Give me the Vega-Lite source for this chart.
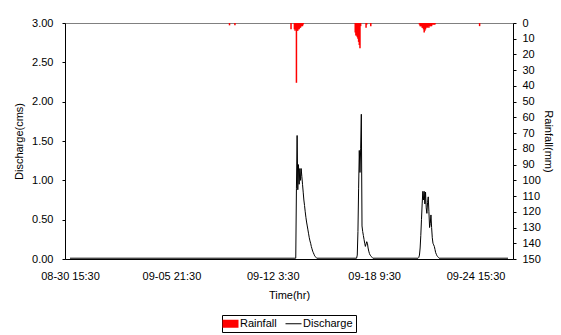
{
  "$schema": "https://vega.github.io/schema/vega-lite/v6.json",
  "autosize": "none",
  "width": 448,
  "height": 236,
  "padding": {"left": 65, "top": 23, "right": 48, "bottom": 76},
  "background": "white",
  "config": {
    "font": "Liberation Sans",
    "view": {"stroke": "#808080", "strokeWidth": 1},
    "axis": {"labelFont": "Liberation Sans", "titleFont": "Liberation Sans", "labelFontSize": 11, "titleFontSize": 11, "titleFontWeight": "normal", "labelColor": "black", "titleColor": "black", "domainColor": "black", "tickColor": "black", "grid": false},
    "legend": {"labelFont": "Liberation Sans", "labelFontSize": 11, "labelColor": "black"}
  },
  "datasets": {
    "rain": [
      {"time": "2010-09-09T11:30", "rainfall": 1.5},
      {"time": "2010-09-09T19:30", "rainfall": 1.5},
      {"time": "2010-09-13T06:30", "rainfall": 4},
      {"time": "2010-09-13T11:30", "rainfall": 4},
      {"time": "2010-09-13T12:30", "rainfall": 5},
      {"time": "2010-09-13T13:30", "rainfall": 4},
      {"time": "2010-09-13T14:30", "rainfall": 38},
      {"time": "2010-09-13T15:30", "rainfall": 5},
      {"time": "2010-09-13T16:30", "rainfall": 5},
      {"time": "2010-09-13T17:30", "rainfall": 4},
      {"time": "2010-09-13T18:30", "rainfall": 4},
      {"time": "2010-09-13T19:30", "rainfall": 3},
      {"time": "2010-09-13T20:30", "rainfall": 3},
      {"time": "2010-09-13T21:30", "rainfall": 2},
      {"time": "2010-09-13T22:30", "rainfall": 2},
      {"time": "2010-09-13T23:30", "rainfall": 2},
      {"time": "2010-09-14T00:30", "rainfall": 1},
      {"time": "2010-09-17T05:30", "rainfall": 6},
      {"time": "2010-09-17T06:30", "rainfall": 8},
      {"time": "2010-09-17T07:30", "rainfall": 8},
      {"time": "2010-09-17T08:30", "rainfall": 9},
      {"time": "2010-09-17T09:30", "rainfall": 10},
      {"time": "2010-09-17T10:30", "rainfall": 12},
      {"time": "2010-09-17T11:30", "rainfall": 14},
      {"time": "2010-09-17T12:30", "rainfall": 16},
      {"time": "2010-09-17T13:30", "rainfall": 2},
      {"time": "2010-09-17T21:30", "rainfall": 3},
      {"time": "2010-09-17T22:30", "rainfall": 1},
      {"time": "2010-09-18T04:30", "rainfall": 2},
      {"time": "2010-09-21T04:30", "rainfall": 1},
      {"time": "2010-09-21T05:30", "rainfall": 2},
      {"time": "2010-09-21T06:30", "rainfall": 2},
      {"time": "2010-09-21T07:30", "rainfall": 2},
      {"time": "2010-09-21T08:30", "rainfall": 3},
      {"time": "2010-09-21T09:30", "rainfall": 3},
      {"time": "2010-09-21T10:30", "rainfall": 4},
      {"time": "2010-09-21T11:30", "rainfall": 6},
      {"time": "2010-09-21T12:30", "rainfall": 5},
      {"time": "2010-09-21T13:30", "rainfall": 4},
      {"time": "2010-09-21T14:30", "rainfall": 3},
      {"time": "2010-09-21T15:30", "rainfall": 2},
      {"time": "2010-09-21T16:30", "rainfall": 3},
      {"time": "2010-09-21T17:30", "rainfall": 2},
      {"time": "2010-09-21T18:30", "rainfall": 3},
      {"time": "2010-09-21T19:30", "rainfall": 2},
      {"time": "2010-09-21T20:30", "rainfall": 2},
      {"time": "2010-09-21T21:30", "rainfall": 2},
      {"time": "2010-09-21T22:30", "rainfall": 2},
      {"time": "2010-09-21T23:30", "rainfall": 1},
      {"time": "2010-09-22T00:30", "rainfall": 1},
      {"time": "2010-09-22T01:30", "rainfall": 1},
      {"time": "2010-09-22T02:30", "rainfall": 1},
      {"time": "2010-09-22T03:30", "rainfall": 1},
      {"time": "2010-09-24T21:30", "rainfall": 2}
    ],
    "flow": [
      {"time": "2010-08-30T15:30", "discharge": 0.01},
      {"time": "2010-09-13T13:30", "discharge": 0.01},
      {"time": "2010-09-13T14:30", "discharge": 0.9},
      {"time": "2010-09-13T15:30", "discharge": 1.57},
      {"time": "2010-09-13T16:30", "discharge": 0.88},
      {"time": "2010-09-13T17:30", "discharge": 1.2},
      {"time": "2010-09-13T18:30", "discharge": 0.95},
      {"time": "2010-09-13T19:30", "discharge": 1.15},
      {"time": "2010-09-13T20:30", "discharge": 1.0},
      {"time": "2010-09-13T21:30", "discharge": 1.15},
      {"time": "2010-09-13T22:30", "discharge": 1.05},
      {"time": "2010-09-13T23:30", "discharge": 0.95},
      {"time": "2010-09-14T00:30", "discharge": 0.85},
      {"time": "2010-09-14T01:30", "discharge": 0.75},
      {"time": "2010-09-14T02:30", "discharge": 0.68},
      {"time": "2010-09-14T03:30", "discharge": 0.6},
      {"time": "2010-09-14T04:30", "discharge": 0.53},
      {"time": "2010-09-14T05:30", "discharge": 0.47},
      {"time": "2010-09-14T06:30", "discharge": 0.42},
      {"time": "2010-09-14T07:30", "discharge": 0.37},
      {"time": "2010-09-14T08:30", "discharge": 0.32},
      {"time": "2010-09-14T09:30", "discharge": 0.27},
      {"time": "2010-09-14T10:30", "discharge": 0.23},
      {"time": "2010-09-14T11:30", "discharge": 0.2},
      {"time": "2010-09-14T12:30", "discharge": 0.16},
      {"time": "2010-09-14T13:30", "discharge": 0.13},
      {"time": "2010-09-14T14:30", "discharge": 0.1},
      {"time": "2010-09-14T15:30", "discharge": 0.08},
      {"time": "2010-09-14T16:30", "discharge": 0.06},
      {"time": "2010-09-14T17:30", "discharge": 0.04},
      {"time": "2010-09-14T18:30", "discharge": 0.03},
      {"time": "2010-09-14T19:30", "discharge": 0.02},
      {"time": "2010-09-14T20:30", "discharge": 0.01},
      {"time": "2010-09-17T07:30", "discharge": 0.01},
      {"time": "2010-09-17T08:30", "discharge": 0.05},
      {"time": "2010-09-17T09:30", "discharge": 0.35},
      {"time": "2010-09-17T10:30", "discharge": 0.9},
      {"time": "2010-09-17T11:30", "discharge": 1.38},
      {"time": "2010-09-17T12:30", "discharge": 1.1},
      {"time": "2010-09-17T13:30", "discharge": 1.4},
      {"time": "2010-09-17T14:30", "discharge": 1.84},
      {"time": "2010-09-17T15:30", "discharge": 0.42},
      {"time": "2010-09-17T16:30", "discharge": 0.35},
      {"time": "2010-09-17T17:30", "discharge": 0.3},
      {"time": "2010-09-17T18:30", "discharge": 0.25},
      {"time": "2010-09-17T19:30", "discharge": 0.2},
      {"time": "2010-09-17T20:30", "discharge": 0.16},
      {"time": "2010-09-17T21:30", "discharge": 0.19},
      {"time": "2010-09-17T22:30", "discharge": 0.22},
      {"time": "2010-09-17T23:30", "discharge": 0.2},
      {"time": "2010-09-18T00:30", "discharge": 0.14},
      {"time": "2010-09-18T01:30", "discharge": 0.1},
      {"time": "2010-09-18T02:30", "discharge": 0.07},
      {"time": "2010-09-18T03:30", "discharge": 0.05},
      {"time": "2010-09-18T04:30", "discharge": 0.04},
      {"time": "2010-09-18T05:30", "discharge": 0.03},
      {"time": "2010-09-18T06:30", "discharge": 0.02},
      {"time": "2010-09-18T07:30", "discharge": 0.01},
      {"time": "2010-09-21T02:30", "discharge": 0.01},
      {"time": "2010-09-21T03:30", "discharge": 0.02},
      {"time": "2010-09-21T04:30", "discharge": 0.05},
      {"time": "2010-09-21T05:30", "discharge": 0.14},
      {"time": "2010-09-21T06:30", "discharge": 0.3},
      {"time": "2010-09-21T07:30", "discharge": 0.5},
      {"time": "2010-09-21T08:30", "discharge": 0.7},
      {"time": "2010-09-21T09:30", "discharge": 0.86},
      {"time": "2010-09-21T10:30", "discharge": 0.75},
      {"time": "2010-09-21T11:30", "discharge": 0.86},
      {"time": "2010-09-21T12:30", "discharge": 0.7},
      {"time": "2010-09-21T13:30", "discharge": 0.85},
      {"time": "2010-09-21T14:30", "discharge": 0.65},
      {"time": "2010-09-21T15:30", "discharge": 0.58},
      {"time": "2010-09-21T16:30", "discharge": 0.72},
      {"time": "2010-09-21T17:30", "discharge": 0.79},
      {"time": "2010-09-21T18:30", "discharge": 0.6},
      {"time": "2010-09-21T19:30", "discharge": 0.4},
      {"time": "2010-09-21T20:30", "discharge": 0.45},
      {"time": "2010-09-21T21:30", "discharge": 0.56},
      {"time": "2010-09-21T22:30", "discharge": 0.4},
      {"time": "2010-09-21T23:30", "discharge": 0.27},
      {"time": "2010-09-22T00:30", "discharge": 0.2},
      {"time": "2010-09-22T01:30", "discharge": 0.18},
      {"time": "2010-09-22T02:30", "discharge": 0.16},
      {"time": "2010-09-22T03:30", "discharge": 0.12},
      {"time": "2010-09-22T04:30", "discharge": 0.08},
      {"time": "2010-09-22T05:30", "discharge": 0.06},
      {"time": "2010-09-22T06:30", "discharge": 0.04},
      {"time": "2010-09-22T07:30", "discharge": 0.03},
      {"time": "2010-09-22T08:30", "discharge": 0.02},
      {"time": "2010-09-22T09:30", "discharge": 0.01},
      {"time": "2010-09-26T15:30", "discharge": 0.01}
    ]
  },
  "encoding": {
    "x": {
      "field": "time",
      "type": "temporal",
      "scale": {"domain": [
        {"year": 2010, "month": 8, "date": 30, "hours": 15, "minutes": 30},
        {"year": 2010, "month": 9, "date": 26, "hours": 15, "minutes": 30}
      ]},
      "axis": {
        "title": "Time(hr)",
        "format": "%m-%d %-H:%M",
        "values": [
          {"year": 2010, "month": 8, "date": 30, "hours": 15, "minutes": 30},
          {"year": 2010, "month": 9, "date": 5, "hours": 21, "minutes": 30},
          {"year": 2010, "month": 9, "date": 12, "hours": 3, "minutes": 30},
          {"year": 2010, "month": 9, "date": 18, "hours": 9, "minutes": 30},
          {"year": 2010, "month": 9, "date": 24, "hours": 15, "minutes": 30}
        ],
        "ticks": false,
        "labelPadding": 11,
        "titlePadding": 8,
        "labelFlush": false,
        "labelOverlap": false
      }
    }
  },
  "layer": [
    {
      "data": {"name": "rain"},
      "mark": {"type": "bar", "width": 1.5},
      "encoding": {
        "y": {
          "field": "rainfall",
          "type": "quantitative",
          "scale": {"domain": [0, 150], "reverse": true, "nice": false},
          "axis": {
            "orient": "right",
            "title": "Rainfall(mm)",
            "values": [0, 10, 20, 30, 40, 50, 60, 70, 80, 90, 100, 110, 120, 130, 140, 150],
            "tickSize": 3,
            "labelPadding": 6,
            "titlePadding": 2,
            "labelFlush": false,
            "labelOverlap": false
          }
        },
        "color": {
          "datum": "Rainfall",
          "type": "nominal",
          "scale": {"domain": ["Rainfall", "Discharge"], "range": ["#ff0000", "#000000"]},
          "legend": {
            "title": null,
            "orient": "none",
            "legendX": 157,
            "legendY": 292,
            "direction": "horizontal",
            "strokeColor": "black",
            "fillColor": "white",
            "padding": 3,
            "symbolSize": 256,
            "symbolType": "M-1,-0.5H1V0.5H-1Z",
            "labelOffset": 4,
            "columnPadding": 6,
            "encode": {
              "symbols": {
                "update": {
                  "shape": {"signal": "datum.value === 'Discharge' ? 'M-1,0H1' : 'M-1,-0.5H1V0.5H-1Z'"},
                  "fill": {"signal": "datum.value === 'Discharge' ? 'transparent' : '#ff0000'"},
                  "stroke": {"signal": "datum.value === 'Discharge' ? '#000000' : '#ff0000'"},
                  "strokeWidth": {"signal": "datum.value === 'Discharge' ? 1 : 0"},
                  "opacity": {"value": 1}
                }
              }
            }
          }
        }
      }
    },
    {
      "data": {"name": "flow"},
      "mark": {"type": "line", "strokeWidth": 1, "interpolate": "linear"},
      "encoding": {
        "y": {
          "field": "discharge",
          "type": "quantitative",
          "scale": {"domain": [0, 3], "nice": false},
          "axis": {
            "orient": "left",
            "title": "Discharge(cms)",
            "values": [0, 0.5, 1, 1.5, 2, 2.5, 3],
            "format": ".2f",
            "tickSize": 3,
            "labelPadding": 9,
            "titlePadding": 7,
            "labelFlush": false,
            "labelOverlap": false
          }
        },
        "color": {"datum": "Discharge", "type": "nominal"}
      }
    }
  ],
  "resolve": {"scale": {"y": "independent"}}
}
